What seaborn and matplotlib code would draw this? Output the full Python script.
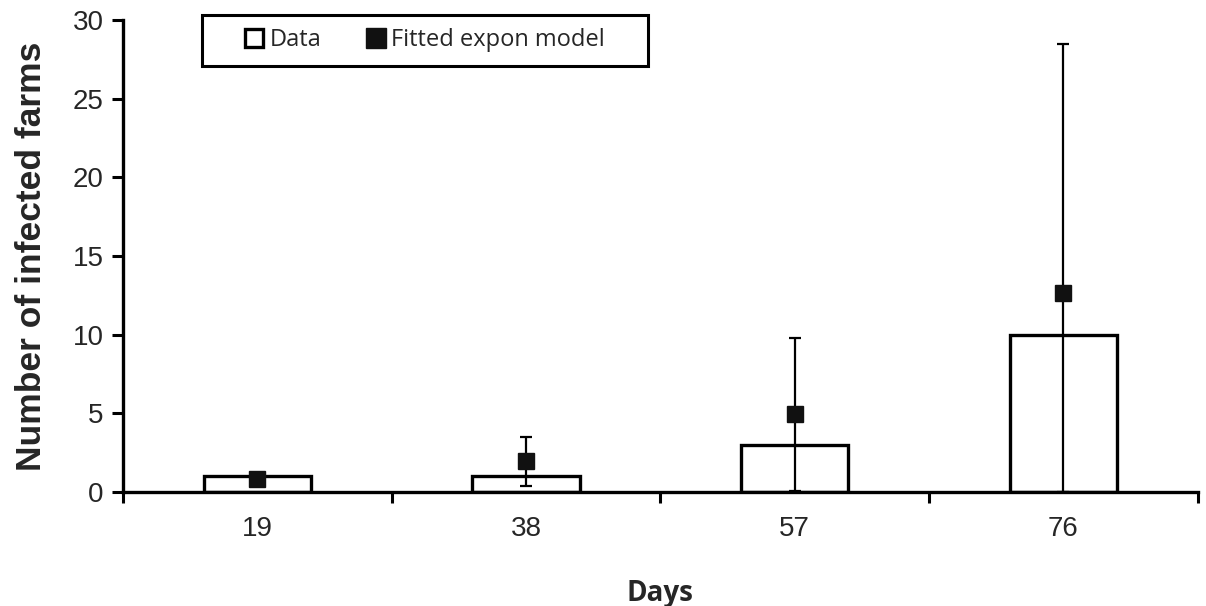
import numpy as np
import pandas as pd
import matplotlib
matplotlib.use("Agg")
import matplotlib.pyplot as plt
import seaborn as sns
from matplotlib.lines import Line2D
from matplotlib.patches import Rectangle

days = ["19", "38", "57", "76"]
observed = [1, 1, 3, 10]
model = [0.8, 2.0, 4.95, 12.65]
model_low = [0.6, 0.4, 0.05, 0.0]
model_high = [1.0, 3.5, 9.8, 28.5]
y_ticks = [0, 5, 10, 15, 20, 25, 30]

sns.set_theme(style="white")
plt.rcParams["font.family"] = ["Liberation Sans", "DejaVu Sans"]

W, H = 1206, 606
fig = plt.figure(figsize=(W / 100, H / 100), dpi=100)
ax = fig.add_axes([0.102, 0.188, 0.891, 0.779])

df = pd.DataFrame({"Days": days, "Observed": observed})
sns.barplot(data=df, x="Days", y="Observed", ax=ax, color="white",
            edgecolor="black", linewidth=2.4, width=0.4, zorder=2)

pos = np.arange(len(days))
m = np.array(model)
yerr = np.vstack([m - np.array(model_low), np.array(model_high) - m])
ax.errorbar(pos, m, yerr=yerr, fmt="s", color="#111111", ecolor="black",
            elinewidth=1.6, capsize=4, capthick=1.6, markersize=11.5, zorder=3)

ax.set_xlim(-0.5, len(days) - 0.5)
ax.set_ylim(0, 30)
ax.set_yticks(y_ticks)
ax.set_yticklabels([str(v) for v in y_ticks], fontsize=20)
ax.set_xticks(pos)
ax.set_xticklabels(days, fontsize=20)
ax.set_xticks(np.arange(-0.5, len(days)), minor=True)
ax.tick_params(axis="x", which="major", length=0, pad=17)
ax.tick_params(axis="x", which="minor", length=8, width=2.2, direction="out", color="black", bottom=True)
ax.tick_params(axis="y", which="major", length=8, width=2.2, direction="out", color="black", left=True, pad=6)

for s in ["top", "right"]:
    ax.spines[s].set_visible(False)
for s in ["left", "bottom"]:
    ax.spines[s].set_color("black")
    ax.spines[s].set_linewidth(2.4)

ax.set_ylabel("Number of infected farms", fontsize=25.5, fontweight="bold", labelpad=18)
ax.set_xlabel("Days", fontsize=20, fontweight="bold", family=["Open Sans", "DejaVu Sans"], labelpad=27)

handles = [
    Line2D([], [], marker="s", linestyle="none", markerfacecolor="white",
           markeredgecolor="black", markeredgewidth=2.4, markersize=13.5),
    Line2D([], [], marker="s", linestyle="none", markerfacecolor="#111111",
           markeredgecolor="#111111", markersize=14),
]
leg = fig.legend(handles, ["Data", "Fitted expon model"], ncol=2,
                 loc="center", bbox_to_anchor=(425 / W, 1 - 40.5 / H),
                 prop={"family": ["Open Sans", "DejaVu Sans"], "size": 17},
                 frameon=False, borderpad=0, handletextpad=0.25,
                 columnspacing=1.9, handlelength=0.8, borderaxespad=0)

fig.add_artist(Rectangle((202 / W, 1 - 66 / H), (648 - 202) / W, 51 / H,
                         transform=fig.transFigure, fill=False,
                         edgecolor="black", linewidth=2.2))

fig.savefig("out.png", dpi=100, facecolor="white")
